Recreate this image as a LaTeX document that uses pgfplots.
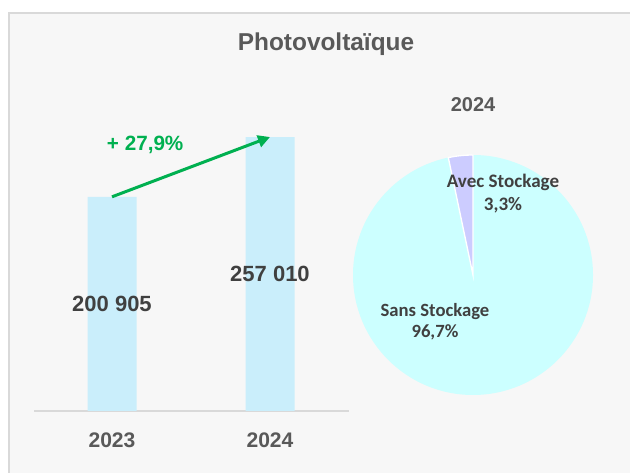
\documentclass[border=0pt]{standalone}
\usepackage{pgfplots}
\pgfplotsset{compat=1.18}
\usetikzlibrary{arrows.meta}
\usepackage{fontspec}
\setmainfont{Liberation Sans}
\newfontfamily\carlito{Carlito}
\definecolor{panel}{HTML}{F7F7F7}
\definecolor{bordc}{HTML}{D9D9D9}
\definecolor{barc}{HTML}{CAEEFB}
\definecolor{greenc}{HTML}{00B050}
\definecolor{valc}{HTML}{404040}
\definecolor{titlec}{HTML}{595959}
\definecolor{sansc}{HTML}{CCFFFF}
\definecolor{avecc}{HTML}{CCCCFF}
\begin{document}
\begin{tikzpicture}
\fill[white] (0,0) rectangle (472.5pt,354.75pt);
\fill[panel] (6.75pt,0) rectangle (472.5pt,345pt);
\draw[bordc, line width=1.5pt] (6.75pt,0) -- (6.75pt,345pt) -- (472.5pt,345pt);
\node[font=\bfseries\fontsize{18.3}{21}\selectfont, text=titlec] at (244.5pt,321.75pt) {Photovoltaïque};
\begin{axis}[
  at={(25.5pt,46.5pt)}, anchor=south west,
  scale only axis, width=236.25pt, height=223.875pt,
  xmin=-0.4937, xmax=1.5, ymin=0, ymax=280000,
  hide y axis,
  axis x line*=bottom,
  x axis line style={draw=bordc, line width=1.5pt, -},
  xtick={0,1}, xticklabels={2023,2024},
  major tick length=0pt,
  xticklabel style={font=\bfseries\fontsize{15.8}{18}\selectfont, text=titlec, anchor=center, yshift=-21.75pt},
  ybar, bar width=36.75pt,
  clip=false,
]
\addplot[fill=barc, draw=none] coordinates {(0,200905) (1,257010)};
\node[font=\bfseries\fontsize{16.5}{19}\selectfont, text=valc] at (axis cs:0,100452.5) {200 905};
\node[font=\bfseries\fontsize{16.5}{19}\selectfont, text=valc] at (axis cs:1,128505) {257 010};
\draw[greenc, line width=2.25pt, -{Triangle[length=9pt,width=9pt]}] (axis cs:0,200905) -- (axis cs:1,257010);
\node[font=\bfseries\fontsize{15.5}{18}\selectfont, text=greenc] at (axis cs:0.21,249500) {+ 27,9\%};
\end{axis}
\begin{axis}[
  at={(354.75pt,148.5pt)}, anchor=center,
  scale only axis, width=180pt, height=180pt,
  xmin=-1, xmax=1, ymin=-1, ymax=1,
  hide axis, clip=false,
]
\addplot[draw=none] coordinates {(0,0)};
\fill[sansc] (axis cs:0,0) circle[radius=90pt];
\pgfmathsetmacro{\avec}{3.3*3.6}
\fill[avecc, draw=white, line width=1pt] (axis cs:0,0) -- ++(90:90pt) arc[start angle=90, delta angle=\avec, radius=90pt] -- cycle;
\node[font=\bfseries\fontsize{15}{17}\selectfont, text=titlec] at (axis cs:0,1.417) {2024};
\node[font=\carlito\bfseries\fontsize{14.3}{17.25}\selectfont, text=valc, align=center] at (axis cs:0.25,0.679) {Avec Stockage\\3,3\%};
\node[font=\carlito\bfseries\fontsize{14}{15.75}\selectfont, text=valc, align=center] at (axis cs:-0.317,-0.3875) {Sans Stockage\\96,7\%};
\end{axis}
\pgfresetboundingbox
\path (0,0) rectangle (472.5pt,354.75pt);
\end{tikzpicture}
\end{document}
